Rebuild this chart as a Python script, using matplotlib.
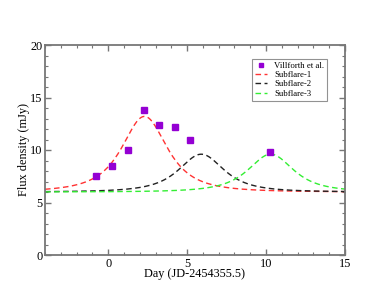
import numpy as np
import matplotlib
matplotlib.use('Agg')
import matplotlib.pyplot as plt
from matplotlib.ticker import MultipleLocator

plt.rcParams['font.family'] = ['Liberation Serif', 'DejaVu Serif']

# Villforth et al. data points
obs_day = [-0.76, 0.25, 1.25, 2.24, 3.25, 4.22, 5.17, 10.25]
obs_flux = [7.52, 8.48, 10.0, 13.8, 12.35, 12.16, 10.95, 9.8]

# subflare model parameters
base_flux = 6.0
sub_names = ['Subflare-1', 'Subflare-2', 'Subflare-3']
sub_peak_day = [2.3, 5.9, 10.3]
sub_amp = [7.2, 3.6, 3.6]
sub_width = [2.21, 2.21, 2.21]
sub_colors = ['#ff3333', '#222222', '#33ee33']


def flare(t, t0, amp, w):
    return base_flux + amp / (1 + ((t - t0) / w) ** 2) ** 1.5


fig = plt.figure(figsize=(3.88, 3.0), dpi=100)
ax = fig.add_axes([0.116, 0.15, 0.773, 0.70])

t = np.linspace(-4, 15, 400)
ax.plot(obs_day, obs_flux, 's', color='#9400d3', ms=4.4, label='Villforth et al.', zorder=5)
for name, t0, a, w, c in zip(sub_names, sub_peak_day, sub_amp, sub_width, sub_colors):
    ax.plot(t, flare(t, t0, a, w), color=c, lw=1.0, dashes=(4, 2.5), label=name)

ax.set_xlim(-4, 15)
ax.set_ylim(0, 20)
ax.xaxis.set_major_locator(MultipleLocator(5))
ax.xaxis.set_minor_locator(MultipleLocator(1))
ax.yaxis.set_major_locator(MultipleLocator(5))
ax.yaxis.set_minor_locator(MultipleLocator(1))
ax.tick_params(which='both', direction='in', top=True, right=True, color='#777777', labelsize=8.8)
ax.tick_params(which='major', length=4.5, width=1.0, pad=2)
ax.tick_params(which='minor', length=2.5, width=0.8)
for s in ax.spines.values():
    s.set_color('#777777')
    s.set_linewidth(1.3)

ax.set_xlabel('Day (JD-2454355.5)', fontsize=8.8, labelpad=-1)
ax.set_ylabel('Flux density (mJy)', fontsize=8.8, labelpad=0)

leg = ax.legend(loc='upper right', bbox_to_anchor=(0.955, 0.955), fontsize=6.3, frameon=True,
                fancybox=False, handlelength=1.4, handletextpad=0.8, borderpad=0.3,
                labelspacing=0.15, markerscale=0.8)
leg.get_frame().set_edgecolor('#777777')
leg.get_frame().set_linewidth(0.8)

fig.savefig('out.png', dpi=100)
